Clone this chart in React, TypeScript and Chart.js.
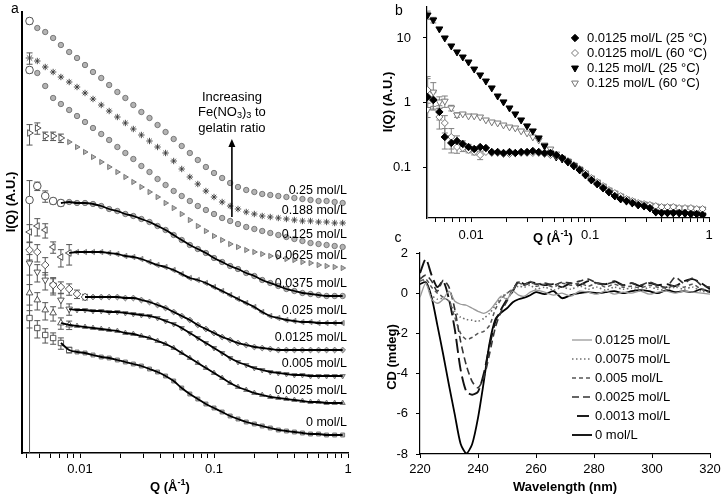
import React, { useEffect, useRef } from 'react';
import { Chart, registerables } from 'chart.js';

Chart.register(...registerables);

const FF = '"Liberation Sans", Arial, Helvetica, sans-serif';

// ---------------- Panel a : SAXS curves (offset, arbitrary units) ----------------
const qA = [0.0042, 0.0048, 0.0055, 0.0063, 0.0072, 0.0083, 0.0095, 0.0109, 0.0125, 0.0144, 0.0165, 0.019, 0.0218, 0.025, 0.0287, 0.033, 0.0379, 0.0435, 0.05, 0.0574, 0.066, 0.0757, 0.087, 0.1, 0.115, 0.132, 0.151, 0.174, 0.2, 0.229, 0.263, 0.302, 0.347, 0.398, 0.457, 0.525, 0.603, 0.692, 0.795, 0.912];

const a025 = [43.2, 42.5, 42.1, 41.5, 40.8, 40.1, 39.5, 38.8, 38.1, 37.5, 36.8, 36.1, 35.5, 34.8, 34.1, 33.5, 32.8, 32.1, 31.4, 30.7, 30.0, 29.3, 28.6, 28.0, 27.5, 27.0, 26.6, 26.3, 26.1, 25.9, 25.8, 25.7, 25.6, 25.5, 25.4, 25.3, 25.2, 25.2, 25.1, 25.0];
const a0188 = [39.5, 39.2, 38.6, 38.1, 37.6, 37.1, 36.6, 36.0, 35.4, 34.8, 34.2, 33.6, 33.0, 32.4, 31.8, 31.2, 30.6, 30.0, 29.2, 28.4, 27.6, 26.9, 26.2, 25.6, 25.1, 24.7, 24.4, 24.1, 23.9, 23.7, 23.6, 23.5, 23.4, 23.3, 23.2, 23.2, 23.1, 23.1, 23.0, 23.0];
const a0125 = [38.3, 38.0, 36.7, 35.5, 34.9, 34.3, 33.7, 33.1, 32.5, 31.9, 31.3, 30.6, 30.0, 29.4, 28.7, 28.1, 27.4, 26.8, 26.2, 25.7, 25.2, 24.7, 24.3, 23.9, 23.5, 23.2, 22.9, 22.6, 22.4, 22.2, 22.0, 21.8, 21.6, 21.4, 21.2, 21.0, 20.9, 20.8, 20.7, 20.6];
const a00625 = [32.0, 32.5, 31.7, 31.7, 31.5, 31.1, 30.6, 30.1, 29.6, 29.1, 28.6, 28.1, 27.6, 27.1, 26.6, 26.1, 25.6, 25.0, 24.5, 23.9, 23.3, 22.7, 22.2, 21.7, 21.3, 20.9, 20.6, 20.3, 20.1, 19.9, 19.7, 19.6, 19.4, 19.3, 19.1, 19.0, 18.8, 18.7, 18.6, 18.5];
const a00375 = [25.3, 26.7, 25.7, 25.2, 25.0, 25.1, 25.0, 25.0, 24.9, 24.7, 24.4, 24.2, 23.9, 23.7, 23.4, 23.1, 22.7, 22.3, 21.8, 21.3, 20.8, 20.4, 20.0, 19.5, 19.1, 18.7, 18.4, 18.0, 17.7, 17.3, 17.0, 16.7, 16.4, 16.2, 16.0, 15.9, 15.8, 15.7, 15.7, 15.7];
const a0025 = [22.1, 22.7, 22.3, 20.6, 19.6, 20.0, 20.1, 20.1, 20.1, 20.1, 20.0, 19.9, 19.7, 19.6, 19.4, 19.1, 18.8, 18.6, 18.3, 17.9, 17.5, 17.3, 17.0, 16.6, 16.2, 15.8, 15.4, 15.0, 14.6, 14.1, 13.7, 13.5, 13.3, 13.2, 13.1, 13.1, 13.0, 13.0, 13.0, 13.0];
const a00125 = [20.3, 20.1, 18.8, 16.8, 16.6, 16.4, 15.9, 15.6, 15.6, 15.6, 15.6, 15.6, 15.5, 15.5, 15.3, 15.1, 14.8, 14.5, 14.1, 13.7, 13.3, 12.8, 12.4, 12.0, 11.6, 11.3, 11.0, 10.8, 10.6, 10.5, 10.4, 10.3, 10.3, 10.3, 10.3, 10.3, 10.3, 10.3, 10.3, 10.3];
const a0005 = [19.0, 18.1, 17.3, 16.8, 15.3, 14.4, 14.3, 14.3, 14.2, 14.2, 14.1, 14.1, 14.0, 13.9, 13.8, 13.7, 13.5, 13.2, 12.9, 12.5, 12.0, 11.5, 11.0, 10.5, 10.0, 9.5, 9.1, 8.8, 8.5, 8.3, 8.1, 8.0, 7.9, 7.8, 7.8, 7.7, 7.7, 7.7, 7.7, 7.7];
const a00025 = [16.0, 15.3, 14.3, 14.0, 13.0, 12.8, 12.7, 12.6, 12.5, 12.4, 12.3, 12.2, 12.0, 11.9, 11.7, 11.5, 11.2, 10.9, 10.5, 10.0, 9.5, 9.0, 8.5, 8.0, 7.5, 7.0, 6.6, 6.3, 6.0, 5.8, 5.6, 5.5, 5.4, 5.3, 5.2, 5.1, 5.1, 5.0, 5.0, 5.0];
const a0 = [13.5, 12.5, 11.8, 11.5, 11.0, 10.3, 10.1, 10.0, 9.8, 9.6, 9.5, 9.3, 9.1, 8.9, 8.7, 8.4, 8.1, 7.7, 7.2, 6.5, 5.9, 5.4, 4.9, 4.5, 4.1, 3.7, 3.4, 3.1, 2.9, 2.7, 2.5, 2.3, 2.2, 2.1, 2.0, 1.9, 1.9, 1.8, 1.8, 1.8];

const seriesA = [a025, a0188, a0125, a00625, a00375, a0025, a00125, a0005, a00025, a0];
const namesA = ['0.25 mol/L', '0.188 mol/L', '0.125 mol/L', '0.0625 mol/L', '0.0375 mol/L', '0.025 mol/L', '0.0125 mol/L', '0.005 mol/L', '0.0025 mol/L', '0 mol/L'];
// relative errors of the first (low-Q) points
const errA = [
  [0.1],
  [0.2],
  [0.1],
  [0.35, 0.2, 0.15, 0.15, 0.15],
  [1.0, 0.15, 0.2, 0.1, 0.1],
  [0.3, 0.3, 0.25, 0.2, 0.3, 0.35],
  [0.3, 0.3, 0.3, 0.25, 0.2, 0.2, 0.15, 0.1],
  [0.35, 0.3, 0.3, 0.3, 0.25, 0.2],
  [0.35, 0.3, 0.3, 0.25, 0.2, 0.15],
  [0.3, 0.3, 0.25, 0.2, 0.2, 0.1],
];
const tickQA = [0.004, 0.005, 0.006, 0.007, 0.008, 0.009, 0.01, 0.02, 0.03, 0.04, 0.05, 0.06, 0.07, 0.08, 0.09, 0.1, 0.2, 0.3, 0.4, 0.5, 0.6, 0.7, 0.8, 0.9, 1];
const majorQ = [0.01, 0.1, 1];

const styleA = [
  { ps: 'circle', rot: 0, open: 1, fit: -1, edge: '#707070', r: 2.7 },
  { ps: 'star', rot: 0, open: 1, fit: -1, edge: '#3a3a3a', r: 3.2 },
  { ps: 'circle', rot: 0, open: 1, fit: -1, edge: '#707070', r: 2.7 },
  { ps: 'triangle', rot: 90, open: 5, fit: -1, edge: '#707070', r: 3 },
  { ps: 'circle', rot: 0, open: 5, fit: 4, edge: '#707070', r: 2.7 },
  { ps: 'triangle', rot: -90, open: 6, fit: 5, edge: '#707070', r: 3 },
  { ps: 'rectRot', rot: 0, open: 8, fit: 7, edge: '#707070', r: 2.9 },
  { ps: 'triangle', rot: 180, open: 6, fit: 5, edge: '#707070', r: 3 },
  { ps: 'triangle', rot: 0, open: 6, fit: 4, edge: '#707070', r: 3 },
  { ps: 'rect', rot: 0, open: 6, fit: 4, edge: '#707070', r: 2.8 },
];

// ---------------- Panel b : temperature comparison ----------------
const qB = [0.0043, 0.0048, 0.0054, 0.0060, 0.0068, 0.0076, 0.0085, 0.0095, 0.0106, 0.0119, 0.0133, 0.0149, 0.0167, 0.0187, 0.0210, 0.0235, 0.0263, 0.0295, 0.0330, 0.0370, 0.0414, 0.0464, 0.0519, 0.0582, 0.0651, 0.0730, 0.0817, 0.0915, 0.1025, 0.1148, 0.1286, 0.1440, 0.1613, 0.1807, 0.2023, 0.2266, 0.2538, 0.2843, 0.3184, 0.3566, 0.3994, 0.4473, 0.5010, 0.5611, 0.6284, 0.7039, 0.7883, 0.8829];
const b0125at25 = [1.22, 1.09, 0.713, 0.292, 0.236, 0.253, 0.227, 0.204, 0.190, 0.204, 0.197, 0.171, 0.171, 0.165, 0.171, 0.165, 0.171, 0.171, 0.177, 0.171, 0.165, 0.165, 0.153, 0.138, 0.120, 0.104, 0.0898, 0.0751, 0.0629, 0.0545, 0.0472, 0.0409, 0.0355, 0.0319, 0.0297, 0.0277, 0.0258, 0.0248, 0.0231, 0.0200, 0.0194, 0.0194, 0.0194, 0.0194, 0.0194, 0.0187, 0.0187, 0.0180];
const b0125at60 = [1.56, 1.13, 0.596, 0.481, 0.292, 0.204, 0.197, 0.184, 0.171, 0.153, 0.171, 0.165, 0.165, 0.159, 0.159, 0.165, 0.165, 0.165, 0.165, 0.165, 0.159, 0.153, 0.148, 0.138, 0.124, 0.107, 0.0931, 0.0807, 0.0675, 0.0585, 0.0507, 0.0440, 0.0395, 0.0355, 0.0319, 0.0297, 0.0277, 0.0267, 0.0258, 0.0248, 0.0240, 0.0240, 0.0240, 0.0231, 0.0231, 0.0231, 0.0223, 0.0223];
const b125at25 = [22.7, 19.0, 13.8, 10.0, 7.52, 6.07, 5.07, 4.24, 3.30, 2.67, 2.15, 1.68, 1.26, 1.02, 0.822, 0.664, 0.536, 0.433, 0.362, 0.282, 0.212, 0.165, 0.143, 0.133, 0.120, 0.104, 0.0898, 0.0751, 0.0629, 0.0545, 0.0472, 0.0409, 0.0355, 0.0319, 0.0297, 0.0277, 0.0258, 0.0248, 0.0231, 0.0200, 0.0194, 0.0194, 0.0194, 0.0194, 0.0187, 0.0187, 0.0187, 0.0180];
const b125at60 = [0.78, 1.45, 1.02, 1.05, 0.822, 0.640, 0.664, 0.618, 0.618, 0.596, 0.536, 0.499, 0.481, 0.448, 0.417, 0.403, 0.362, 0.337, 0.292, 0.262, 0.219, 0.190, 0.159, 0.138, 0.124, 0.107, 0.0931, 0.0807, 0.0675, 0.0585, 0.0507, 0.0440, 0.0395, 0.0355, 0.0319, 0.0297, 0.0277, 0.0267, 0.0258, 0.0248, 0.0240, 0.0240, 0.0240, 0.0231, 0.0231, 0.0231, 0.0223, 0.0223];
const errB = [
  [1.07, 0.3, 0.25, 0.35, 0.3, 0.2, 0.12, 0.1, 0.08],
  [0.5, 0.3, 0.35, 0.3, 0.35, 0.2, 0.12, 0.1, 0.1, 0.15],
  [0.15, 0.1],
  [0.25, 0.4, 0.2, 0.2, 0.1, 0.08],
];
const seriesB = [b0125at25, b0125at60, b125at25, b125at60];
const namesB = ['0.0125 mol/L (25 °C)', '0.0125 mol/L (60 °C)', '0.125 mol/L (25 °C)', '0.125 mol/L (60 °C)'];
const tickQB = [0.005, 0.006, 0.007, 0.008, 0.009, 0.01, 0.02, 0.03, 0.04, 0.05, 0.06, 0.07, 0.08, 0.09, 0.1, 0.2, 0.3, 0.4, 0.5, 0.6, 0.7, 0.8, 0.9, 1];
const tickIB = [0.1, 1, 10];
const styleB = [
  { ps: 'rectRot', rot: 0, r: 3.7, fill: '#000000', edge: '#000000' },
  { ps: 'rectRot', rot: 0, r: 3.5, fill: '#ffffff', edge: '#777777' },
  { ps: 'triangle', rot: 180, r: 4.0, fill: '#000000', edge: '#000000' },
  { ps: 'triangle', rot: 180, r: 3.9, fill: '#ffffff', edge: '#777777' },
];

// ---------------- Panel c : CD spectra ----------------
const lamC = [220, 222, 224, 226, 228, 230, 232, 234, 236, 238, 240, 242, 244, 246, 248, 250, 252, 254, 256, 258, 260, 263, 266, 269, 272, 275, 278, 281, 284, 287, 290, 293, 296, 299, 302, 305, 308, 311, 314, 317, 320];
const c0125 = [-0.2, 0.5, -0.3, -0.5, -0.3, 0.1, -0.4, -0.55, -0.6, -0.75, -0.9, -1.0, -0.85, -0.5, -0.15, -0.3, 0.1, -0.1, -0.15, 0.05, 0.15, 0.05, -0.1, 0.0, -0.15, 0.1, 0.05, -0.05, 0.1, -0.05, 0.05, 0.0, 0.1, -0.05, 0.05, 0.1, 0.0, 0.1, 0.05, 0.0, -0.05];
const c0075 = [0.8, 0.5, -0.1, -0.3, -0.25, -0.4, -0.9, -1.2, -1.3, -1.35, -1.4, -1.25, -1.0, -0.6, -0.2, 0.0, 0.2, 0.35, 0.3, 0.4, 0.2, 0.3, 0.15, 0.3, 0.2, 0.35, 0.2, 0.3, 0.15, 0.3, 0.2, 0.25, 0.1, 0.3, 0.2, 0.15, 0.3, 0.2, 0.3, 0.1, 0.05];
const c0005 = [0.6, 0.7, 0.3, 0.0, -0.2, -0.4, -1.2, -2.0, -2.3, -2.2, -2.0, -1.9, -1.6, -0.8, -0.3, 0.0, 0.2, 0.5, 0.4, 0.6, 0.35, 0.45, 0.3, 0.5, 0.4, 0.5, 0.35, 0.5, 0.3, 0.45, 0.3, 0.35, 0.25, 0.4, 0.3, 0.25, 0.4, 0.3, 0.45, 0.2, 0.15];
const c00025 = [0.7, 0.9, 0.6, 0.1, 0.65, 0.3, -0.8, -2.4, -3.6, -4.4, -4.7, -4.2, -3.0, -1.7, -0.9, -0.4, 0.2, 0.55, 0.4, 0.5, 0.45, 0.5, 0.4, 0.55, 0.5, 0.6, 0.7, 0.5, 0.45, 0.55, 0.4, 0.5, 0.4, 0.55, 0.4, 0.3, 0.8, 0.5, 0.75, 0.4, 0.3];
const c00013 = [1.0, 1.7, 0.9, 0.3, 0.6, -0.3, -1.8, -3.8, -4.9, -5.05, -4.9, -4.0, -2.6, -1.4, -0.8, -0.3, 0.1, 0.6, 0.45, 0.55, 0.5, 0.4, 0.45, 0.3, 0.5, 0.4, 0.6, 0.5, 0.45, 0.6, 0.4, 0.5, 0.35, 0.5, 0.4, 0.45, 0.35, 0.6, 0.7, 0.5, 0.2];
const c0 = [0.45, 0.55, -0.2, -1.6, -3.05, -4.58, -6.04, -7.49, -7.97, -7.5, -6.2, -4.4, -2.47, -1.3, -0.97, -0.75, -0.45, -0.3, -0.22, -0.1, 0.05, -0.05, 0.1, -0.25, -0.1, 0.0, 0.05, 0.0, 0.05, 0.1, 0.0, 0.1, 0.15, 0.1, 0.0, 0.15, 0.05, 0.1, 0.05, 0.2, 0.05];
const seriesC = [c0125, c0075, c0005, c00025, c00013, c0];
const namesC = ['0.0125 mol/L', '0.0075 mol/L', '0.005 mol/L', '0.0025 mol/L', '0.0013 mol/L', '0 mol/L'];
const styleC = [
  { color: '#9a9a9a', w: 1.3, dash: [] as number[] },
  { color: '#707070', w: 1.6, dash: [1.5, 2.5] },
  { color: '#555555', w: 1.5, dash: [4, 3] },
  { color: '#333333', w: 1.6, dash: [7, 4] },
  { color: '#111111', w: 1.9, dash: [14, 5] },
  { color: '#000000', w: 1.8, dash: [] as number[] },
];

// ---------------- drawing helpers ----------------
function drawText(ctx: any, text: string, x: number, y: number, o: any = {}) {
  ctx.save();
  ctx.font = `${o.bold ? 'bold ' : ''}${o.size ?? 13}px ${FF}`;
  ctx.fillStyle = o.color ?? '#000';
  ctx.textAlign = o.align ?? 'center';
  ctx.textBaseline = 'middle';
  ctx.translate(x, y);
  if (o.rot) ctx.rotate(o.rot);
  ctx.fillText(text, 0, 0);
  ctx.restore();
}

function drawRich(ctx: any, parts: any[], x: number, y: number, size: number, bold: boolean) {
  ctx.save();
  const f = (s: number) => `${bold ? 'bold ' : ''}${s}px ${FF}`;
  let total = 0;
  const widths = parts.map((p) => {
    ctx.font = f(p.sub || p.sup ? size * 0.7 : size);
    const w = ctx.measureText(p.t).width;
    total += w;
    return w;
  });
  ctx.textBaseline = 'middle';
  ctx.textAlign = 'left';
  ctx.fillStyle = '#000';
  let cx = x - total / 2;
  parts.forEach((p, i) => {
    ctx.font = f(p.sub || p.sup ? size * 0.7 : size);
    const dy = p.sub ? size * 0.3 : p.sup ? -size * 0.33 : 0;
    ctx.fillText(p.t, cx, y + dy);
    cx += widths[i];
  });
  ctx.restore();
}

function drawMarker(ctx: any, ps: string, rot: number, x: number, y: number, r: number, fill: string, stroke: string) {
  ctx.save();
  ctx.beginPath();
  if (ps === 'rectRot') {
    ctx.moveTo(x, y - r); ctx.lineTo(x + r, y); ctx.lineTo(x, y + r); ctx.lineTo(x - r, y); ctx.closePath();
  } else {
    let a = (rot * Math.PI) / 180;
    for (let k = 0; k < 3; k++) {
      const px = x + Math.sin(a) * r, py = y - Math.cos(a) * r;
      if (k) ctx.lineTo(px, py); else ctx.moveTo(px, py);
      a += (2 * Math.PI) / 3;
    }
    ctx.closePath();
  }
  ctx.fillStyle = fill; ctx.fill();
  ctx.strokeStyle = stroke; ctx.lineWidth = 1; ctx.stroke();
  ctx.restore();
}

function drawErrorBars(chart: any, bounds: (v: number, r: number) => [number | null, number], color: string) {
  const { ctx, chartArea } = chart;
  const ys = chart.scales.y;
  ctx.save();
  ctx.beginPath();
  ctx.rect(chartArea.left, chartArea.top, chartArea.right - chartArea.left, chartArea.bottom - chartArea.top);
  ctx.clip();
  ctx.strokeStyle = color;
  ctx.lineWidth = 1;
  chart.data.datasets.forEach((ds: any, i: number) => {
    if (!ds.errRel) return;
    const meta = chart.getDatasetMeta(i);
    ds.errRel.forEach((r: number, j: number) => {
      const el = meta.data[j];
      if (!r || !el) return;
      const [lo, hi] = bounds(ds.data[j].y, r);
      const yHi = ys.getPixelForValue(hi);
      const yLo = lo === null ? chartArea.bottom + 2 : ys.getPixelForValue(lo);
      const x = el.x;
      ctx.beginPath();
      ctx.moveTo(x, yLo); ctx.lineTo(x, yHi);
      ctx.moveTo(x - 3, yHi); ctx.lineTo(x + 3, yHi);
      if (lo !== null) { ctx.moveTo(x - 3, yLo); ctx.lineTo(x + 3, yLo); }
      ctx.stroke();
    });
  });
  ctx.restore();
}

const tickFont = { family: FF, size: 13 };
const noPad = (s: any) => { s.paddingTop = 0; s.paddingBottom = 0; s.paddingLeft = 0; s.paddingRight = 0; };

// ---------------- chart configs ----------------
const V_PER_DECADE = 6.45;
const ARROW_Q = 0.136;
const ARROW_FROM = 23.6;
const ARROW_TO = 31.4;

function configA(): any {
  const markerSets = seriesA.map((s, i) => {
    const st = styleA[i];
    return {
      type: 'scatter',
      data: s.map((v, j) => ({ x: qA[j], y: v })),
      errRel: errA[i],
      order: 1,
      pointStyle: st.ps,
      pointRotation: st.rot,
      pointRadius: (c: any) => (c.dataIndex < st.open ? 3.8 : st.r),
      pointBackgroundColor: (c: any) => (c.dataIndex < st.open ? '#ffffff' : '#b3b3b3'),
      pointBorderColor: (c: any) => (c.dataIndex < st.open ? '#444444' : st.edge),
      pointBorderWidth: 0.9,
      showLine: false,
    };
  });
  const fitSets = seriesA
    .map((s, i) => ({ s, st: styleA[i] }))
    .filter((o) => o.st.fit >= 0)
    .map((o) => ({
      type: 'scatter',
      data: o.s.slice(o.st.fit).map((v, j) => ({ x: qA[j + o.st.fit], y: v })),
      showLine: true,
      order: 0,
      borderColor: '#000',
      borderWidth: 1.8,
      pointRadius: 0,
      cubicInterpolationMode: 'monotone',
    }));
  const plugin = {
    id: 'panelA',
    beforeDatasetsDraw(chart: any) {
      drawErrorBars(chart, (v, r) => [r >= 1 ? null : v + V_PER_DECADE * Math.log10(1 - r), v + V_PER_DECADE * Math.log10(1 + r)], '#555');
    },
    afterDraw(chart: any) {
      const { ctx } = chart;
      const xs = chart.scales.x, ys = chart.scales.y;
      const xr = xs.getPixelForValue(1) - 1;
      seriesA.forEach((s, i) => drawText(ctx, namesA[i], xr, ys.getPixelForValue(s[s.length - 1] + 1.25), { size: 12.5, align: 'right' }));
      const ax = xs.getPixelForValue(ARROW_Q);
      const y0 = ys.getPixelForValue(ARROW_FROM), y1 = ys.getPixelForValue(ARROW_TO);
      ctx.save();
      ctx.strokeStyle = '#000'; ctx.lineWidth = 1.6;
      ctx.beginPath(); ctx.moveTo(ax, y0); ctx.lineTo(ax, y1 + 6); ctx.stroke();
      ctx.fillStyle = '#000';
      ctx.beginPath(); ctx.moveTo(ax, y1); ctx.lineTo(ax - 3.5, y1 + 8); ctx.lineTo(ax + 3.5, y1 + 8); ctx.closePath(); ctx.fill();
      ctx.restore();
      drawText(ctx, 'Increasing', ax, y1 - 42, { size: 13 });
      drawRich(ctx, [{ t: 'Fe(NO' }, { t: '3', sub: true }, { t: ')' }, { t: '3', sub: true }, { t: ' to' }], ax, y1 - 27, 13, false);
      drawText(ctx, 'gelatin ratio', ax, y1 - 11, { size: 13 });
      drawText(ctx, 'a', 15, 9, { size: 14 });
      drawText(ctx, 'I(Q) (A.U.)', 11, 202, { size: 13, bold: true, rot: -Math.PI / 2 });
      drawRich(ctx, [{ t: 'Q (Å' }, { t: '-1', sup: true }, { t: ')' }], 170, 487, 13, true);
    },
  };
  return {
    type: 'scatter',
    data: { datasets: [...fitSets, ...markerSets] },
    plugins: [plugin],
    options: {
      responsive: false,
      animation: false,
      events: [],
      layout: { padding: { top: 12, right: 14, left: 0, bottom: 0 } },
      plugins: { legend: { display: false }, tooltip: { enabled: false } },
      scales: {
        x: {
          type: 'logarithmic',
          min: 0.00369,
          max: 1,
          afterBuildTicks: (s: any) => { s.ticks = tickQA.map((v) => ({ value: v })); },
          afterFit: (s: any) => { s.height = 43; noPad(s); },
          ticks: { autoSkip: false, maxRotation: 0, padding: 4, color: '#000', font: tickFont, callback: (v: any) => (majorQ.includes(v) ? String(v) : '') },
          grid: { display: true, drawOnChartArea: false, drawTicks: true, tickLength: 5, color: '#000' },
          border: { display: true, color: '#000', width: 1.6 },
        },
        y: {
          type: 'linear',
          min: 0,
          max: 44.1,
          afterFit: (s: any) => { s.width = 22; noPad(s); },
          ticks: { display: false },
          grid: { display: false },
          border: { display: true, color: '#000', width: 2 },
        },
      },
    },
  };
}

function configB(): any {
  const sets = seriesB.map((s, i) => ({
    type: 'scatter',
    data: s.map((v, j) => ({ x: qB[j], y: v })),
    errRel: errB[i],
    pointStyle: styleB[i].ps,
    pointRotation: styleB[i].rot,
    pointRadius: styleB[i].r,
    pointBackgroundColor: styleB[i].fill,
    pointBorderColor: styleB[i].edge,
    pointBorderWidth: 1,
  }));
  const plugin = {
    id: 'panelB',
    beforeDatasetsDraw(chart: any) {
      drawErrorBars(chart, (v, r) => [r >= 1 ? null : v * (1 - r), v * (1 + r)], '#808080');
    },
    afterDraw(chart: any) {
      const { ctx } = chart;
      namesB.forEach((n, i) => {
        const y = 38 + i * 15;
        drawMarker(ctx, styleB[i].ps, styleB[i].rot, 199, y, styleB[i].r, styleB[i].fill, styleB[i].edge);
        drawText(ctx, n, 211, y, { size: 13, align: 'left' });
      });
      drawText(ctx, 'b', 23, 11, { size: 14 });
      drawText(ctx, 'I(Q) (A.U.)', 12, 102, { size: 13, bold: true, rot: -Math.PI / 2 });
      drawRich(ctx, [{ t: 'Q (Å' }, { t: '-1', sup: true }, { t: ')' }], 177, 238, 13, true);
    },
  };
  return {
    type: 'scatter',
    data: { datasets: sets },
    plugins: [plugin],
    options: {
      responsive: false,
      animation: false,
      events: [],
      layout: { padding: { top: 7, right: 14, left: 0, bottom: 0 } },
      plugins: { legend: { display: false }, tooltip: { enabled: false } },
      scales: {
        x: {
          type: 'logarithmic',
          min: 0.00425,
          max: 1,
          afterBuildTicks: (s: any) => { s.ticks = tickQB.map((v) => ({ value: v })); },
          afterFit: (s: any) => { s.height = 32; noPad(s); },
          ticks: { autoSkip: false, maxRotation: 0, padding: 6, color: '#000', font: tickFont, callback: (v: any) => (majorQ.includes(v) ? String(v) : '') },
          grid: { display: true, drawOnChartArea: false, drawTicks: true, tickLength: 4, color: '#000' },
          border: { display: true, color: '#000', width: 1.2 },
        },
        y: {
          type: 'logarithmic',
          min: 0.0162,
          max: 30.2,
          afterBuildTicks: (s: any) => { s.ticks = tickIB.map((v) => ({ value: v })); },
          afterFit: (s: any) => { s.width = 51; noPad(s); },
          ticks: { autoSkip: false, padding: 12, color: '#000', font: tickFont, callback: (v: any) => (tickIB.includes(v) ? String(v) : '') },
          grid: { display: true, drawOnChartArea: false, drawTicks: true, tickLength: 4, color: '#000' },
          border: { display: true, color: '#000', width: 1.2 },
        },
      },
    },
  };
}

function configC(): any {
  const sets = seriesC.map((s, i) => ({
    type: 'line',
    data: s.map((v, j) => ({ x: lamC[j], y: v })),
    borderColor: styleC[i].color,
    borderWidth: styleC[i].w,
    borderDash: styleC[i].dash,
    pointRadius: 0,
    tension: 0.25,
    fill: false,
  }));
  const plugin = {
    id: 'panelC',
    afterDraw(chart: any) {
      const { ctx } = chart;
      namesC.forEach((n, i) => {
        const y = 110 + i * 19;
        const st = styleC[i];
        ctx.save();
        ctx.strokeStyle = st.color; ctx.lineWidth = st.w; ctx.setLineDash(st.dash);
        ctx.beginPath();
        if (i === 4) { ctx.moveTo(201, y); ctx.lineTo(213, y); } else { ctx.moveTo(196, y); ctx.lineTo(216, y); }
        ctx.stroke();
        ctx.restore();
        drawText(ctx, n, 219, y, { size: 13, align: 'left' });
      });
      drawText(ctx, 'c', 22, 8, { size: 14 });
      drawText(ctx, 'CD (mdeg)', 16, 127, { size: 13, bold: true, rot: -Math.PI / 2 });
      drawText(ctx, 'Wavelength (nm)', 189, 257, { size: 13, bold: true });
    },
  };
  return {
    type: 'line',
    data: { datasets: sets },
    plugins: [plugin],
    options: {
      responsive: false,
      animation: false,
      events: [],
      layout: { padding: { top: 23, right: 13, left: 0, bottom: 0 } },
      plugins: { legend: { display: false }, tooltip: { enabled: false } },
      scales: {
        x: {
          type: 'linear',
          min: 220,
          max: 320,
          afterFit: (s: any) => { s.height = 42; noPad(s); },
          ticks: { stepSize: 20, maxRotation: 0, padding: 4, color: '#000', font: tickFont },
          grid: { display: true, drawOnChartArea: false, drawTicks: true, tickLength: 4, color: '#000' },
          border: { display: true, color: '#000', width: 1.2 },
        },
        y: {
          type: 'linear',
          min: -8,
          max: 2,
          afterFit: (s: any) => { s.width = 44; noPad(s); },
          ticks: { stepSize: 2, padding: 8, color: '#000', font: tickFont },
          grid: { display: true, drawOnChartArea: false, drawTicks: true, tickLength: 4, color: '#000' },
          border: { display: true, color: '#000', width: 1.2 },
        },
      },
    },
  };
}

export default function App() {
  const refA = useRef<HTMLCanvasElement>(null);
  const refB = useRef<HTMLCanvasElement>(null);
  const refC = useRef<HTMLCanvasElement>(null);

  useEffect(() => {
    Chart.defaults.font.family = FF;
    Chart.defaults.color = '#000';
    const charts = [
      new Chart(refA.current as HTMLCanvasElement, configA()),
      new Chart(refB.current as HTMLCanvasElement, configB()),
      new Chart(refC.current as HTMLCanvasElement, configC()),
    ];
    return () => charts.forEach((c) => c.destroy());
  }, []);

  return (
    <div style={{ position: 'absolute', left: 0, top: 0, width: 723, height: 496, background: '#fff', overflow: 'hidden' }}>
      <canvas ref={refA} width={362} height={496} style={{ position: 'absolute', left: 0, top: 0, width: 362, height: 496 }} />
      <canvas ref={refB} width={347} height={250} style={{ position: 'absolute', left: 376, top: 0, width: 347, height: 250 }} />
      <canvas ref={refC} width={347} height={266} style={{ position: 'absolute', left: 376, top: 230, width: 347, height: 266 }} />
    </div>
  );
}
